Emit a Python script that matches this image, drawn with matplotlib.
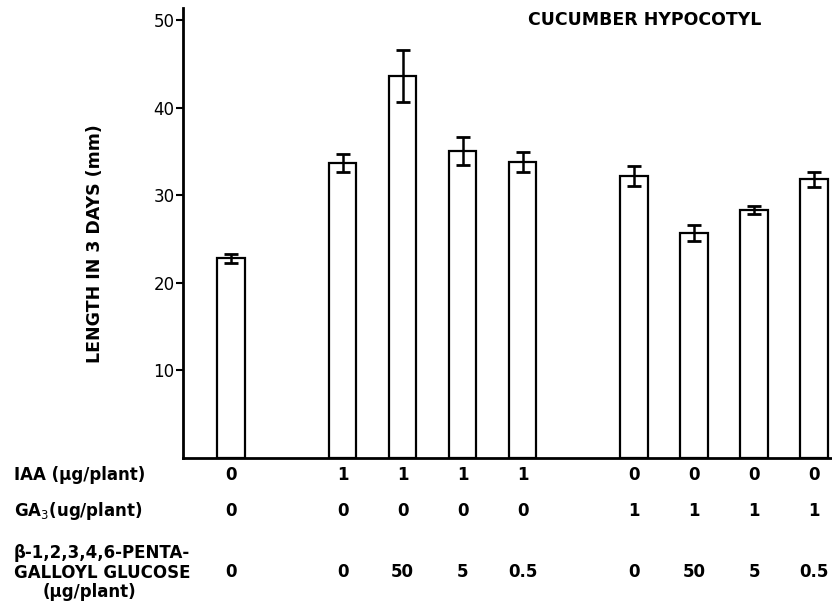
import numpy as np
import matplotlib
matplotlib.use("Agg")
import matplotlib.pyplot as plt
from matplotlib.transforms import blended_transform_factory

# Data
lengths = [22.8, 33.7, 43.6, 35.1, 33.8, 32.2, 25.7, 28.3, 31.8]
errors = [0.5, 1.0, 3.0, 1.6, 1.1, 1.1, 0.9, 0.5, 0.9]
group_sizes = [1, 4, 4]
iaa = ["0", "1", "1", "1", "1", "0", "0", "0", "0"]
ga3 = ["0", "0", "0", "0", "0", "1", "1", "1", "1"]
pgg = ["0", "0", "50", "5", "0.5", "0", "50", "5", "0.5"]
row_labels = ["IAA (\u03bcg/plant)", "GA$_3$(ug/plant)",
              "\u03b2-1,2,3,4,6-PENTA-\nGALLOYL GLUCOSE"]

# bar positions: unit spacing inside a group, wider gap between groups
x = []
pos = 0.0
for g, n in enumerate(group_sizes):
    if g > 0:
        pos += 0.86
    for k in range(n):
        x.append(pos)
        pos += 1.0
x = np.array(x)

fig = plt.figure(figsize=(8.32, 6.01), dpi=100)
ax = fig.add_axes([0.22, 0.238, 0.78, 0.749])

ax.bar(x, lengths, width=0.46, color="white", edgecolor="black", linewidth=1.6)
ax.errorbar(x, lengths, yerr=errors, fmt="none", ecolor="black",
            elinewidth=1.8, capsize=5, capthick=2)

ax.set_xlim(-0.8, 10.02)
ax.set_ylim(0, 51.4)
ax.set_yticks([10, 20, 30, 40, 50])
ax.set_xticks([])
ax.tick_params(axis="y", direction="out", length=5, width=1.5, labelsize=12, pad=1)
for s in ["top", "right"]:
    ax.spines[s].set_visible(False)
ax.spines["left"].set_linewidth(2)
ax.spines["bottom"].set_linewidth(2)

fig.text(95 / 832, 1 - 244 / 601, "LENGTH IN 3 DAYS (mm)", rotation=90,
         ha="center", va="center", fontsize=12.5, fontweight="bold")

fig.text(645 / 832, 1 - 20 / 601, "CUCUMBER HYPOCOTYL", ha="center", va="center",
         fontsize=12.5, fontweight="bold")

# condition table under the axis
trans = blended_transform_factory(ax.transData, fig.transFigure)
rows_y = [475, 511, 572]
for vals, py in zip([iaa, ga3, pgg], rows_y):
    for xi, v in zip(x, vals):
        ax.text(xi, 1 - py / 601, v, transform=trans, ha="center", va="center",
                fontsize=12, fontweight="bold", clip_on=False)

fig.text(14 / 832, 1 - 475 / 601, row_labels[0], ha="left", va="center",
         fontsize=12, fontweight="bold")
fig.text(14 / 832, 1 - 511 / 601, row_labels[1], ha="left", va="center",
         fontsize=12, fontweight="bold")
fig.text(14 / 832, 1 - 563 / 601, row_labels[2], ha="left", va="center",
         fontsize=12, fontweight="bold", linespacing=1.2)
fig.text(89 / 832, 1 - 592 / 601, "(\u03bcg/plant)", ha="center", va="center",
         fontsize=12, fontweight="bold")

fig.savefig("out.png", dpi=100)
